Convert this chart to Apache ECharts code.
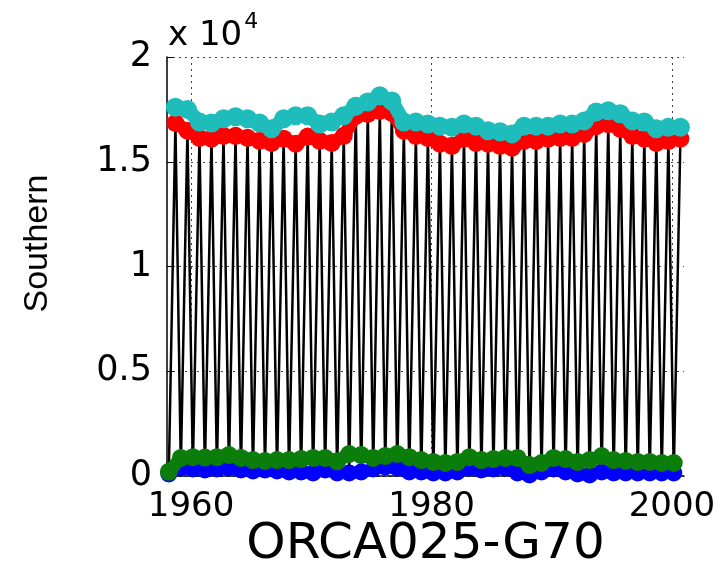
<!DOCTYPE html>
<html>
<head>
<meta charset="utf-8">
<script src="https://cdn.jsdelivr.net/npm/echarts@6/dist/echarts.min.js"></script>
<style>
  html, body { margin: 0; padding: 0; background: #fff; }
  #chart { width: 727px; height: 566px; }
</style>
</head>
<body>
<div id="chart"></div>
<script>
// years of the run
const years = [1958, 1959, 1960, 1961, 1962, 1963, 1964, 1965, 1966, 1967,
  1968, 1969, 1970, 1971, 1972, 1973, 1974, 1975, 1976, 1977,
  1978, 1979, 1980, 1981, 1982, 1983, 1984, 1985, 1986, 1987,
  1988, 1989, 1990, 1991, 1992, 1993, 1994, 1995, 1996, 1997,
  1998, 1999, 2000];

// winter maximum (cyan / red) and summer minimum (green / blue)
const cyanMax = [17600, 17500, 16900, 16850, 17050, 17150, 17050, 16850, 16570, 17050,
  17200, 17200, 16800, 16900, 17200, 17650, 17850, 18150, 17900, 16900,
  16900, 16800, 16700, 16650, 16800, 16700, 16480, 16430, 16330, 16700,
  16700, 16700, 16800, 16800, 16950, 17380, 17430, 17290, 16950, 16900,
  16570, 16650, 16650];
const redMax = [16850, 16480, 16140, 16100, 16240, 16240, 16140, 16000, 15900, 16100,
  15860, 16200, 16000, 15900, 16240, 17190, 17290, 17430, 17330, 16480,
  16240, 16140, 15860, 15760, 16100, 15900, 15860, 15760, 15670, 16000,
  16000, 16100, 16140, 16140, 16330, 16700, 16800, 16570, 16240, 16100,
  15900, 16000, 16100];
const greenMin = [200, 860, 900, 880, 900, 1000, 860, 760, 720, 760,
  760, 810, 860, 860, 700, 1050, 1000, 860, 950, 1050,
  900, 760, 670, 620, 670, 900, 760, 810, 860, 860,
  520, 620, 860, 810, 670, 760, 950, 760, 720, 670,
  670, 620, 620];
const blueMin = [100, 380, 330, 290, 330, 380, 290, 240, 290, 240,
  190, 190, 140, 290, 140, 140, 190, 330, 430, 380,
  190, 190, 140, 140, 190, 380, 290, 330, 380, 140,
  50, 190, 330, 190, 100, 50, 190, 140, 140, 140,
  140, 140, 140];

// timing of the extremes within the year (Feb minimum, Sep maximum)
const minMonth = 0.15;
const maxMonth = 0.7;

const xTicks = [1960, 1980, 2000];

const cycle = [];
years.forEach(function (y, i) {
  cycle.push([y + minMonth, blueMin[i]]);
  cycle.push([y + maxMonth, redMax[i]]);
});

function pts(vals, off) {
  return years.map(function (y, i) { return [y + off, vals[i]]; });
}

// thick dotted band: a fat line plus round markers in one colour
function band(name, vals, off, color, size, z) {
  return {
    name: name,
    type: 'line',
    data: pts(vals, off),
    symbol: 'circle',
    symbolSize: size,
    showSymbol: true,
    lineStyle: { color: color, width: size - 5 },
    itemStyle: { color: color, borderWidth: 0 },
    z: z
  };
}

const chart = echarts.init(document.getElementById('chart'));
const font = 'DejaVu Sans';

chart.setOption({
  animation: false,
  backgroundColor: '#fff',
  title: {
    left: 163,
    top: 6,
    text: '{a|x 10}{b|4}',
    textStyle: {
      fontWeight: 'normal',
      rich: {
        a: { fontFamily: font, fontWeight: 'normal', fontSize: 34, color: '#000', verticalAlign: 'bottom' },
        b: { fontFamily: font, fontWeight: 'normal', fontSize: 22, color: '#000', verticalAlign: 'top', padding: [0, 0, 20, 2] }
      }
    }
  },
  grid: { left: 167, right: 43, top: 57, bottom: 90, containLabel: false, outerBoundsMode: 'none' },
  xAxis: {
    type: 'value',
    min: 1958,
    max: 2001,
    name: 'ORCA025-G70',
    nameLocation: 'middle',
    nameGap: 44,
    nameMoveOverlap: false,
    nameTextStyle: { fontFamily: font, fontSize: 50, color: '#000' },
    axisLine: { lineStyle: { color: '#000', width: 1.5 } },
    axisTick: { inside: true, length: 6, customValues: xTicks, lineStyle: { color: '#000' } },
    axisLabel: {
      customValues: xTicks, fontFamily: font, fontSize: 34, color: '#000', margin: 14,
      formatter: function (v) { return String(v); }
    },
    splitLine: { show: true, lineStyle: { color: '#444', type: [2, 4], width: 1 } }
  },
  yAxis: {
    type: 'value',
    min: 0,
    max: 20000,
    interval: 5000,
    name: 'Southern',
    nameLocation: 'middle',
    nameGap: 112,
    nameRotate: 90,
    nameMoveOverlap: false,
    nameTextStyle: { fontFamily: 'Liberation Sans', fontSize: 34, color: '#000', padding: [0, 0, 0, 46] },
    axisLine: { show: true, lineStyle: { color: '#000', width: 1.5 } },
    axisTick: { show: true, inside: true, length: 6, lineStyle: { color: '#000' } },
    axisLabel: {
      fontFamily: font, fontSize: 35, color: '#000', margin: 15,
      formatter: function (v) { return String(v / 10000); }
    },
    splitLine: { show: true, lineStyle: { color: '#444', type: [2, 4], width: 1 } }
  },
  series: [
    {
      name: 'cycle',
      type: 'line',
      data: cycle,
      symbol: 'none',
      lineStyle: { color: '#000', width: 2.5 },
      z: 1
    },
    band('blue', blueMin, minMonth, '#0000ff', 17, 2),
    band('green', greenMin, minMonth, '#0a7d0a', 18, 3),
    band('red', redMax, maxMonth, '#ff0000', 18, 4),
    band('cyan', cyanMax, maxMonth, '#1fbcbc', 19, 5)
  ]
});
</script>
</body>
</html>
